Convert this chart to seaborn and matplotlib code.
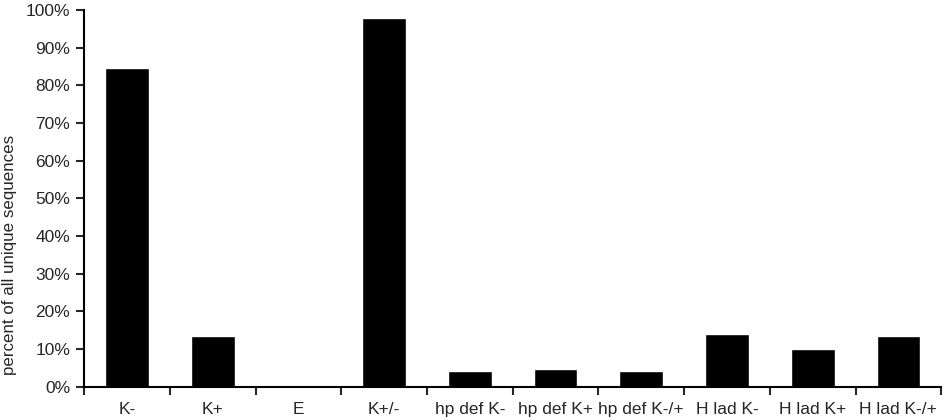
import numpy as np
import pandas as pd
import seaborn as sns
import matplotlib.pyplot as plt
from matplotlib.ticker import FixedLocator, PercentFormatter

# -------- DATA --------
categories = ["K-", "K+", "E", "K+/-", "hp def K-", "hp def K+", "hp def K-/+",
              "H lad K-", "H lad K+", "H lad K-/+"]
percent = [84.6, 13.5, 0.6, 98.0, 4.1, 4.6, 4.2, 14.1, 10.1, 13.4]

df = pd.DataFrame({"category": categories, "percent": percent})

# -------- STYLE --------
sns.set_style("ticks")
plt.rcParams["font.family"] = ["Liberation Sans", "DejaVu Sans"]

fig = plt.figure(figsize=(9.45, 4.2), dpi=100)
ax = fig.add_axes([0.089, 0.079, 0.907, 0.897])

sns.barplot(data=df, x="category", y="percent", color="black",
            width=0.51, saturation=1, ax=ax)

# -------- AXES --------
ax.set_xlim(-0.5, len(categories) - 0.5)
ax.set_ylim(0, 100)
ax.set_yticks(np.arange(0, 101, 10))
ax.yaxis.set_major_formatter(PercentFormatter(decimals=0))
ax.xaxis.set_minor_locator(FixedLocator(np.arange(-0.5, len(categories), 1)))
ax.tick_params(axis="x", which="major", length=0, pad=11, labelsize=12.5)
ax.tick_params(axis="x", which="minor", length=6, width=1.5, direction="out")
ax.tick_params(axis="y", length=6, width=1.5, labelsize=12.5, pad=4)

for side in ["top", "right"]:
    ax.spines[side].set_visible(False)
for side in ["left", "bottom"]:
    ax.spines[side].set_linewidth(1.5)
    ax.spines[side].set_color("black")

ax.set_xlabel("")
ax.set_ylabel("percent of all unique sequences", fontsize=12.2)
ax.yaxis.set_label_coords(-0.078, 0.35)

fig.savefig("out.png", dpi=100)
